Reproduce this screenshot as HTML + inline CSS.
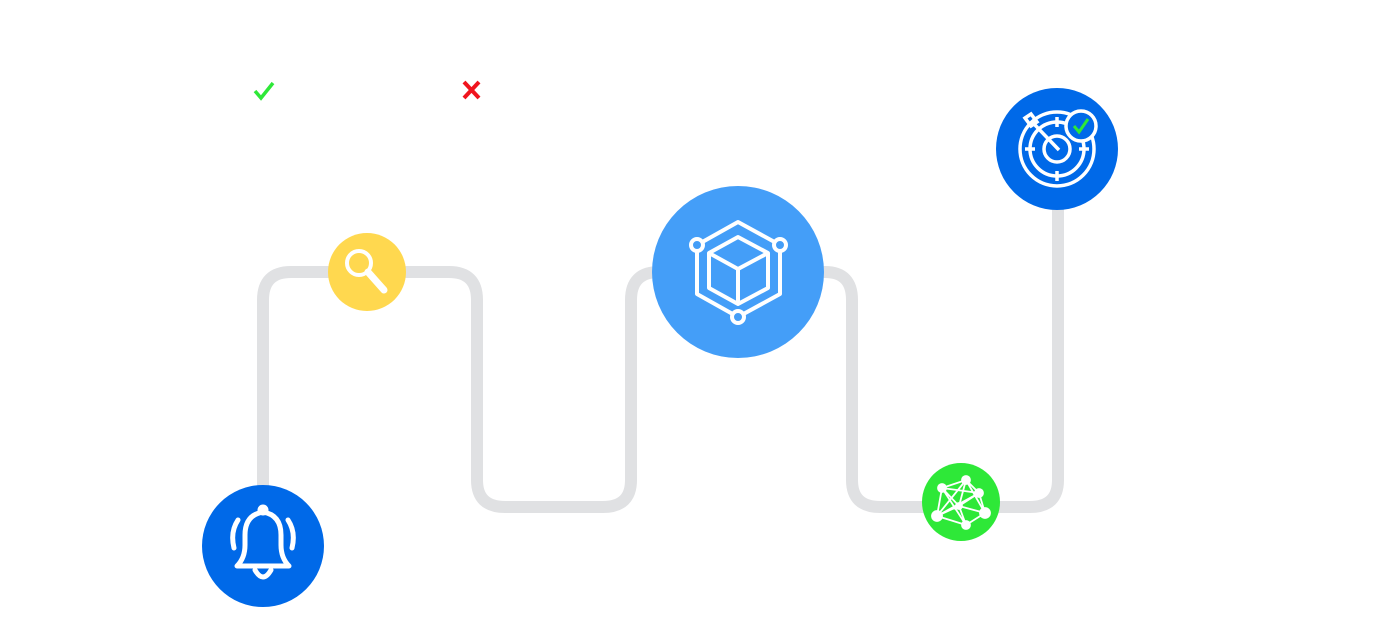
<!DOCTYPE html>
<html><head><style>body{margin:0;background:#fff}svg{display:block}</style></head><body>
<svg width="1400" height="620" viewBox="0 0 1400 620" xmlns="http://www.w3.org/2000/svg">
<path d="M263,500 V300 Q263,272 291,272 H449 Q477,272 477,300 V480 Q477,507 505,507 H603 Q631,507 631,480 V300 Q631,272 659,272 H825 Q852,272 852,300 V480 Q852,507 880,507 H1030 Q1058,507 1058,480 V150" fill="none" stroke="#e0e1e3" stroke-width="12"/>
<path d="M255,91 L261,98 L273,83" fill="none" stroke="#2ee838" stroke-width="3.5"/>
<path d="M464,82 L479,98 M479,82 L464,98" stroke="#f0141e" stroke-width="4"/>
<circle cx="263" cy="546" r="61" fill="#0069e8"/>
<g fill="none" stroke="#fff" stroke-width="5" stroke-linecap="round" stroke-linejoin="round">
<path d="M237,566 H289 Q281,558 281,545 V535 Q281,515 263,512 Q245,515 245,535 V545 Q245,558 237,566 Z"/>
<path d="M255,570 Q263,584 271,570"/><circle cx="263" cy="510" r="3"/>
<path d="M238,520 Q230,532 234,548 M288,520 Q296,532 292,548"/>
</g>
<circle cx="367" cy="272" r="39" fill="#ffd84f"/>
<g fill="none" stroke="#fff" stroke-width="4"><circle cx="359" cy="263" r="12"/></g>
<path d="M368,272 L384,290" stroke="#fff" stroke-width="7" stroke-linecap="round"/>
<circle cx="738" cy="272" r="86" fill="#449ef8"/>
<g fill="none" stroke="#fff" stroke-width="4" stroke-linejoin="round">
<path d="M738,222 L780,245 L780,294 L738,317 L697,294 L697,245 Z"/>
<path d="M738,237 L768,253 L768,288 L738,304 L709,288 L709,253 Z M709,253 L738,269 L768,253 M738,269 V304"/>
<circle cx="697" cy="245" r="6" fill="#449ef8"/><circle cx="780" cy="245" r="6" fill="#449ef8"/><circle cx="738" cy="317" r="6" fill="#449ef8"/>
</g>
<circle cx="961" cy="502" r="39" fill="#2ee838"/>
<g stroke="#fff" stroke-width="1.8" fill="#fff">
<path d="M942,488 L966,480 L979,493 L985,513 L966,525 L937,516 Z M942,488 L959,506 L985,513 M966,480 L959,506 L966,525 M979,493 L959,506 L937,516 M942,488 L979,493 M942,488 L966,525 M966,480 L985,513 M979,493 L937,516 M966,480 L937,516" fill="none"/>
<circle cx="942" cy="488" r="4"/><circle cx="966" cy="480" r="4"/><circle cx="979" cy="493" r="4"/><circle cx="985" cy="513" r="5"/><circle cx="966" cy="525" r="4"/><circle cx="937" cy="516" r="5"/><circle cx="959" cy="506" r="3"/>
</g>
<circle cx="1057" cy="149" r="61" fill="#0069e8"/>
<g fill="none" stroke="#fff" stroke-width="3.5">
<circle cx="1057" cy="149" r="37"/><circle cx="1057" cy="149" r="27"/><circle cx="1057" cy="149" r="13"/>
<path d="M1057,117 V127 M1057,171 V181 M1025,149 H1035 M1079,149 H1089"/>
<path d="M1059,150 L1034,124"/><path d="M1025,118 L1031,114 L1037,122 L1031,126 Z"/>
<circle cx="1081" cy="126" r="15" fill="#0069e8"/>
</g>
<path d="M1074,126 L1079,132 L1088,119" fill="none" stroke="#2ee838" stroke-width="3"/>
</svg>
</body></html>
